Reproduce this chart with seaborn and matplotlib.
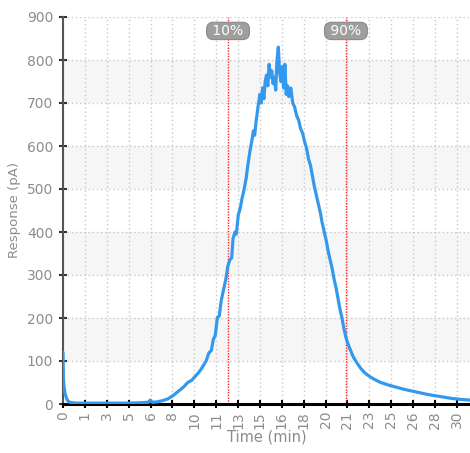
import numpy as np
import pandas as pd
import matplotlib
matplotlib.use("Agg")
import matplotlib.pyplot as plt
import seaborn as sns

# Values
time_min = [0.0, 0.03, 0.08, 0.15, 0.25, 0.35, 0.5, 1.0, 2.0, 3.0, 4.0, 5.0, 6.0, 6.5, 6.65, 6.8,
            7.2, 7.6, 8.0, 8.4, 8.8, 9.2, 9.5, 9.8, 10.0, 10.3, 10.5, 10.7, 10.9, 11.1, 11.3, 11.45,
            11.6, 11.75, 11.9, 12.05, 12.2, 12.4, 12.55, 12.7, 12.85, 12.95, 13.1, 13.2, 13.35, 13.5,
            13.65, 13.8, 13.95, 14.1, 14.25, 14.4, 14.5, 14.6, 14.7, 14.85, 15.0, 15.1, 15.2, 15.3,
            15.4, 15.5, 15.6, 15.7, 15.8, 15.9, 16.0, 16.1, 16.2, 16.3, 16.4, 16.5, 16.6, 16.7, 16.8,
            16.9, 17.0, 17.1, 17.2, 17.35, 17.5, 17.65, 17.8, 17.95, 18.1, 18.25, 18.4, 18.55, 18.7,
            18.85, 19.0, 19.15, 19.3, 19.45, 19.6, 19.75, 19.9, 20.05, 20.2, 20.35, 20.5, 20.65, 20.8,
            20.95, 21.1, 21.25, 21.4, 21.55, 21.7, 21.9, 22.1, 22.4, 22.7, 23.0, 23.4, 23.8, 24.2,
            24.8, 25.4, 26.0, 26.6, 27.2, 27.8, 28.4, 29.0, 29.6, 30.2, 31.0]
response_pa = [120, 60, 40, 25, 15, 8, 4, 2, 2, 2, 2, 2, 3, 4, 9, 4,
               5, 8, 12, 20, 30, 40, 50, 55, 62, 72, 80, 90, 100, 118, 125, 150,
               160, 200, 205, 240, 262, 290, 320, 335, 340, 385, 400, 395, 440, 455,
               480, 500, 525, 560, 590, 615, 635, 625, 655, 690, 720, 700, 735, 710,
               750, 765, 740, 790, 760, 775, 745, 760, 730, 800, 830, 770, 750, 785, 735,
               790, 720, 740, 715, 735, 700, 690, 670, 660, 640, 630, 610, 595, 570,
               555, 530, 505, 485, 465, 445, 420, 400, 380, 355, 335, 315, 290, 270,
               245, 220, 200, 175, 155, 140, 125, 110, 95, 82, 72, 63, 56, 50,
               44, 39, 34, 30, 26, 22, 19, 16, 13, 11, 9]

x_tick_labels = ["0", "1", "3", "5", "6", "8", "10", "11", "13", "15", "16", "18",
                 "20", "21", "23", "25", "26", "28", "30"]
marker_times = [12.57, 21.55]
marker_labels = ["10%", "90%"]

df = pd.DataFrame({"Time (min)": time_min, "Response (pA)": response_pa})

sns.set_style("white")
plt.rcParams["font.family"] = ["DejaVu Sans"]

fig = plt.figure(figsize=(4.70, 4.53), dpi=100)
ax = fig.add_axes([63 / 470, 49 / 453, 407 / 470, 387 / 453])

# alternating bands
for lo in range(100, 900, 200):
    ax.axhspan(lo, lo + 100, color="#f6f6f6", zorder=0, lw=0)

sns.lineplot(data=df, x="Time (min)", y="Response (pA)", ax=ax,
             color="#3399ee", linewidth=2.3, zorder=3)

ax.set_xlim(0, 31.0)
ax.set_ylim(0, 900)

xticks = np.arange(len(x_tick_labels)) * 5 / 3
ax.set_xticks(xticks)
ax.set_xticklabels(x_tick_labels, rotation=90)
ax.set_yticks(range(0, 1000, 100))

ax.grid(True, axis="both", color="#c8c8c8", linestyle=(0, (1, 2)), linewidth=1, zorder=1)
ax.set_axisbelow(True)

for sp in ["top", "right"]:
    ax.spines[sp].set_visible(False)
ax.spines["left"].set_color("#555555")
ax.spines["left"].set_linewidth(1.5)
ax.spines["bottom"].set_color("black")
ax.spines["bottom"].set_linewidth(2.2)

ax.tick_params(axis="y", direction="inout", length=6, width=1.5, color="#333333",
               labelcolor="#8c8c8c", labelsize=10, pad=4, left=True)
ax.tick_params(axis="x", direction="inout", length=6, width=1.5, color="black",
               labelcolor="#8c8c8c", labelsize=10, pad=2, bottom=True)

ax.set_xlabel("Time (min)", color="#8c8c8c", fontsize=10.5)
ax.set_ylabel("Response (pA)", color="#8c8c8c", fontsize=9.5)
ax.xaxis.set_label_coords(0.5, -0.085)
ax.yaxis.set_label_coords(-0.118, 0.5)
ax.xaxis.label.set_va("center")
ax.yaxis.label.set_va("center")

trans = ax.get_xaxis_transform()
for t, lab in zip(marker_times, marker_labels):
    ax.axvline(t, color="#ff2222", linestyle=(0, (1, 1)), linewidth=1, zorder=2)
    ax.text(t, 0.964, " " + lab + " ", transform=trans, ha="center", va="center",
            color="white", fontsize=10, zorder=5,
            bbox=dict(boxstyle="round,pad=0.12,rounding_size=0.5", fc="#9e9e9e", ec="#8a8a8a", lw=0.8))

fig.savefig("out.png", dpi=100)
